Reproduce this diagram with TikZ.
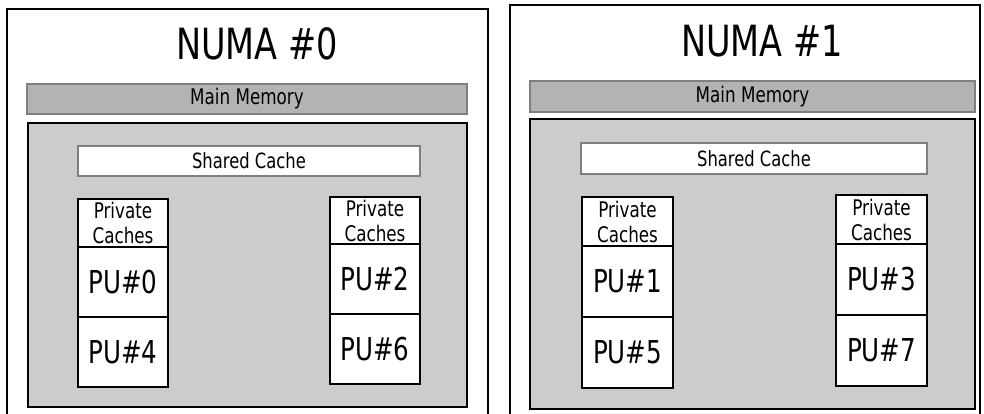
\documentclass[tikz,border=0pt]{standalone}
\usepackage{fontspec}
\setmainfont{DejaVu Sans}[FakeStretch=0.78]
\definecolor{memgray}{HTML}{B3B3B3}
\definecolor{sockgray}{HTML}{CCCCCC}
\definecolor{edgegray}{HTML}{7F7F7F}
\tikzset{
  frame/.style={draw=black, line width=2pt},
  membar/.style={draw=edgegray, fill=memgray, line width=1.2pt, inner sep=0pt,
    font=\fontsize{21.5}{25}\selectfont},
  socket/.style={draw=black, fill=sockgray, line width=2pt, inner sep=0pt},
  shared/.style={draw=edgegray, fill=white, line width=1.2pt, inner sep=0pt,
    font=\fontsize{21}{25}\selectfont},
  pcache/.style={draw=black, fill=white, line width=1.2pt, inner sep=0pt, align=center,
    font=\fontsize{21.5}{25}\selectfont},
  pubox/.style={draw=black, fill=white, line width=1.2pt, inner sep=0pt,
    font=\fontsize{31.5}{36}\selectfont},
  title/.style={anchor=base, inner sep=0pt, font=\fontsize{43}{50}\selectfont},
}
\begin{document}
\begin{tikzpicture}[x=1pt,y=-1pt]
\useasboundingbox (0,0) rectangle (984,414);
% left NUMA node
\draw[frame] (7,416) -- (7,9) -- (488,9) -- (488,416);
\node[title] (t0) at (257,60) {NUMA \#0};
\node[membar, minimum width=440pt, minimum height=30pt] (mem0) at (247,99) {Main Memory};
\node[socket, minimum width=439pt, minimum height=284pt] (sock0) at (247.5,265) {};
\node[shared, minimum width=342pt, minimum height=30pt] (sh0) at (249,161) {Shared Cache};
\node[pcache, minimum width=90pt, minimum height=48pt] (pc0) at (123,223) {Private\\Caches};
\node[pubox, minimum width=90pt, minimum height=70pt] (pu0) at (123,282) {PU\#0};
\node[pubox, minimum width=90pt, minimum height=70pt] (pu4) at (123,352) {PU\#4};
\node[pcache, minimum width=90pt, minimum height=47pt] (pc2) at (375,220.5) {Private\\Caches};
\node[pubox, minimum width=90pt, minimum height=70pt] (pu2) at (375,279) {PU\#2};
\node[pubox, minimum width=90pt, minimum height=70pt] (pu6) at (375,349) {PU\#6};
% right NUMA node
\draw[frame] (510,416) -- (510,5) -- (980,5) -- (980,416);
\node[title] (t1) at (762,57) {NUMA \#1};
\node[membar, minimum width=445pt, minimum height=31pt] (mem1) at (752.5,96.5) {Main Memory};
\node[socket, minimum width=445pt, minimum height=290pt] (sock1) at (752.5,264) {};
\node[shared, minimum width=346pt, minimum height=31pt] (sh1) at (754,158.5) {Shared Cache};
\node[pcache, minimum width=91pt, minimum height=49pt] (pc1) at (627.5,221.5) {Private\\Caches};
\node[pubox, minimum width=91pt, minimum height=71pt] (pu1) at (627.5,281.5) {PU\#1};
\node[pubox, minimum width=91pt, minimum height=71pt] (pu5) at (627.5,352.5) {PU\#5};
\node[pcache, minimum width=91pt, minimum height=49pt] (pc3) at (881.5,219.5) {Private\\Caches};
\node[pubox, minimum width=91pt, minimum height=71pt] (pu3) at (881.5,279.5) {PU\#3};
\node[pubox, minimum width=91pt, minimum height=71pt] (pu7) at (881.5,350.5) {PU\#7};
\end{tikzpicture}
\end{document}
